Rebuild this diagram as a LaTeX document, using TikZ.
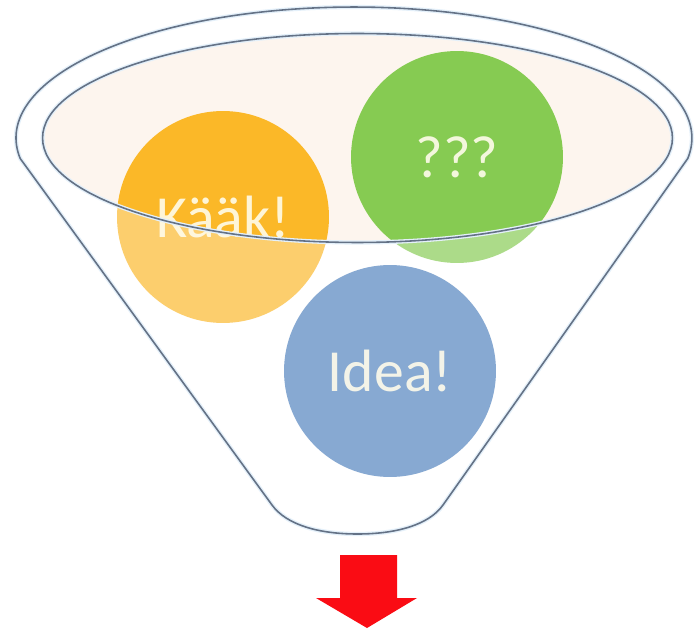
\documentclass[tikz,border=0pt]{standalone}
\usepackage{fontspec}
\setmainfont{Carlito}
\definecolor{rim}{RGB}{100,114,134}
\definecolor{halo}{RGB}{228,240,250}
\definecolor{peach}{RGB}{253,245,238}
\definecolor{orangec}{RGB}{251,184,40}
\definecolor{greenc}{RGB}{134,203,82}
\definecolor{bluec}{RGB}{79,129,189}
\definecolor{arrowred}{RGB}{250,12,20}
\definecolor{txt}{RGB}{255,252,235}
\tikzset{
  ball/.style={circle, draw=none, minimum size=4.24cm, inner sep=0pt},
  balltext/.style={text=txt, text opacity=0.9, font=\fontsize{34}{40}\selectfont},
  rimline/.style={draw=rim, line width=0.9pt},
  haloline/.style={draw=halo, line width=2.4pt}
}
\begin{document}
\begin{tikzpicture}[x=0.02cm, y=0.02cm]
\useasboundingbox (0,0) rectangle (695,-631);
\fill[white] (0,0) rectangle (695,-631);
% key points
\coordinate (TL) at (20.2,-158.5);
\coordinate (BR) at (443,-505);
\coordinate (BL) at (272,-505);
\coordinate (BM) at (357.5,-534);
\coordinate (MC) at (357.5,-138);
% mouth fill
\fill[peach] (MC) ellipse[x radius=6.3cm, y radius=2.09cm];
% balls
\node[ball, fill=orangec] (kaakc) at (223,-217) {};
\node[ball, fill=greenc]  (qc)    at (457,-157) {};
\node[ball, fill=bluec]   (ideac) at (390,-371) {};
% glass body (funnel minus mouth)
\path[fill=white, fill opacity=0.32, even odd rule]
  (TL) arc[start angle=189, end angle=-9, x radius=6.76cm, y radius=2.62cm]
  -- (BR) .. controls (428.9,-525) and (396,-534) .. (BM)
  .. controls (319,-534) and (286.5,-525) .. (BL) -- cycle
  (MC) ellipse[x radius=6.3cm, y radius=2.09cm];
% texts
\node[balltext] (kaak) at (kaakc) {Kääk!};
\node[balltext] (q)    at (qc) {???};
\node[balltext] (idea) at (ideac) {Idea!};
% outlines with halo
\foreach \sty in {haloline, rimline}{
  \path[\sty]
    (TL) arc[start angle=189, end angle=-9, x radius=6.76cm, y radius=2.62cm]
    -- (BR) .. controls (428.9,-525) and (396,-534) .. (BM)
    .. controls (319,-534) and (286.5,-525) .. (BL) -- cycle;
  \path[\sty] (MC) ellipse[x radius=6.3cm, y radius=2.09cm];
}
% red arrow
\fill[arrowred] (340,-555) -- (397,-555) -- (397,-598) -- (417,-598)
  -- (367,-628) -- (316,-598) -- (340,-598) -- cycle;
\end{tikzpicture}
\end{document}
